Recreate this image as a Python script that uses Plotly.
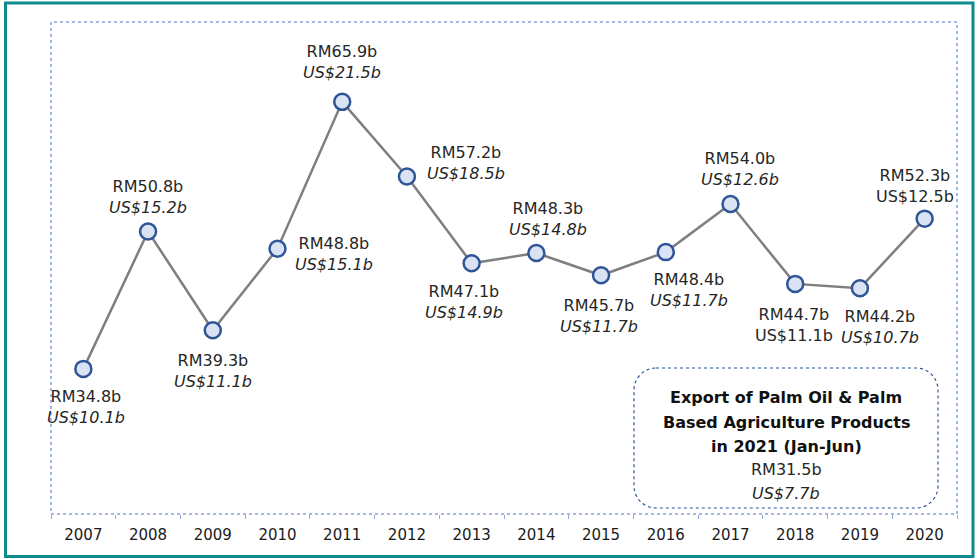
import plotly.graph_objects as go

years = ["2007", "2008", "2009", "2010", "2011", "2012", "2013", "2014",
         "2015", "2016", "2017", "2018", "2019", "2020"]
rm_values = [34.8, 50.8, 39.3, 48.8, 65.9, 57.2, 47.1, 48.3, 45.7, 48.4, 54.0, 44.7, 44.2, 52.3]
us_values = [10.1, 15.2, 11.1, 15.1, 21.5, 18.5, 14.9, 14.8, 11.7, 11.7, 12.6, 11.1, 10.7, 12.5]
us_italic = [True, True, True, True, True, True, True, True, True, True, True, False, True, False]

box_title_lines = ["Export of Palm Oil & Palm", "Based Agriculture Products", "in 2021 (Jan-Jun)"]
box_rm = 31.5
box_us = 7.7

# label offsets (pixels) relative to each point
label_dx = [3, 0, 0, 56, 0, 59, -8, 12, -2, 23, 9, -1, 20, -10]
label_dy = [-38, 35, -41, -5, 40, 14, -39, 34, -41, -38, 35, -41, -39, 33]

W, H = 979, 559
L, R, T, B = 51, 22, 22, 45
PW, PH = W - L - R, H - T - B

def px(x):
    return (x - L) / PW

def py(y):
    return 1 - (y - T) / PH

FONT = "DejaVu Sans"
TXT = "#262626"

fig = go.Figure()
fig.add_trace(go.Scatter(
    x=years, y=rm_values, mode="lines+markers",
    line=dict(color="#7f7f7f", width=2.5),
    marker=dict(size=16, color="#dae3f3", line=dict(color="#2f5597", width=2.5)),
    hoverinfo="skip", showlegend=False,
))

annotations = []
for i, (rm, us) in enumerate(zip(rm_values, us_values)):
    us_txt = f"US${us:.1f}b"
    if us_italic[i]:
        us_txt = f"<i>{us_txt}</i>"
    annotations.append(dict(
        x=i, y=rm, xref="x", yref="y", showarrow=False,
        xanchor="center", yanchor="middle",
        text=f"RM{rm:.1f}b<br>{us_txt}",
        xshift=label_dx[i], yshift=label_dy[i],
        font=dict(family=FONT, size=16, color=TXT), align="center",
    ))

box_line_y = [397, 422, 446]
for line, yy in zip(box_title_lines, box_line_y):
    annotations.append(dict(
        x=px(786), y=py(yy), xref="paper", yref="paper", showarrow=False,
        xanchor="center", yanchor="middle",
        text=f"<b>{line}</b>",
        font=dict(family=FONT, size=16, color="#111111"),
    ))
annotations.append(dict(
    x=px(786), y=py(469), xref="paper", yref="paper", showarrow=False,
    xanchor="center", yanchor="middle", text=f"RM{box_rm:.1f}b",
    font=dict(family=FONT, size=16, color=TXT),
))
annotations.append(dict(
    x=px(786), y=py(493), xref="paper", yref="paper", showarrow=False,
    xanchor="center", yanchor="middle", text=f"<i>US${box_us:.1f}b</i>",
    font=dict(family=FONT, size=16, color=TXT),
))

# rounded box path
x0, x1, y0, y1, r = 634, 938, 368, 508, 22
k = 0.45
pts = [
    f"M {px(x0 + r)},{py(y0)}",
    f"L {px(x1 - r)},{py(y0)}",
    f"C {px(x1 - r * k)},{py(y0)} {px(x1)},{py(y0 + r * k)} {px(x1)},{py(y0 + r)}",
    f"L {px(x1)},{py(y1 - r)}",
    f"C {px(x1)},{py(y1 - r * k)} {px(x1 - r * k)},{py(y1)} {px(x1 - r)},{py(y1)}",
    f"L {px(x0 + r)},{py(y1)}",
    f"C {px(x0 + r * k)},{py(y1)} {px(x0)},{py(y1 - r * k)} {px(x0)},{py(y1 - r)}",
    f"L {px(x0)},{py(y0 + r)}",
    f"C {px(x0)},{py(y0 + r * k)} {px(x0 + r * k)},{py(y0)} {px(x0 + r)},{py(y0)}",
    "Z",
]
shapes = [
    dict(type="path", xref="paper", yref="paper", path=" ".join(pts),
         line=dict(color="#2f5597", width=1.2, dash="dot"), fillcolor="rgba(0,0,0,0)"),
    dict(type="rect", xref="paper", yref="paper", x0=0, x1=1, y0=0, y1=1,
         line=dict(color="#4472c4", width=1, dash="dot"), fillcolor="rgba(0,0,0,0)", layer="below"),
    dict(type="rect", xref="paper", yref="paper", x0=px(5.5), x1=px(973), y0=py(556.5), y1=py(3),
         line=dict(color="#0f8b8d", width=3), fillcolor="rgba(0,0,0,0)"),
]

fig.update_layout(
    width=W, height=H,
    margin=dict(l=L, r=R, t=T, b=B),
    paper_bgcolor="white", plot_bgcolor="white",
    xaxis=dict(type="category", tickson="boundaries", ticks="outside", ticklen=4,
               tickcolor="#8faadc", tickwidth=1, showgrid=False, showline=False,
               zeroline=False, tickfont=dict(family=FONT, size=15, color="#1a1a1a"),
               ticklabelstandoff=10,
               range=[-0.5, len(years) - 0.5], fixedrange=True),
    yaxis=dict(range=[17.9, 75.2], visible=False, showgrid=False, fixedrange=True),
    annotations=annotations, shapes=shapes,
)

fig.write_html("out.html", config={"displayModeBar": False},
               post_script="document.body.style.margin='0';document.body.style.overflow='hidden';")
